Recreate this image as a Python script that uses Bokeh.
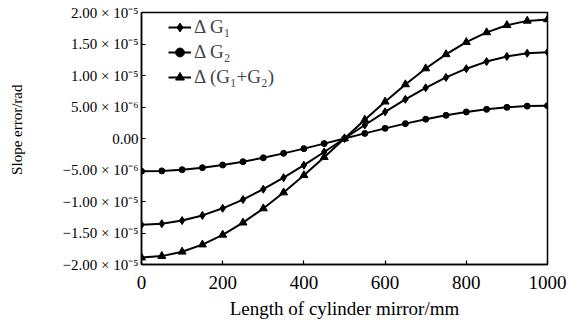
from bokeh.plotting import figure
from bokeh.models import Range1d, FixedTicker, CustomJSTickFormatter, Legend, LegendItem, Title
from bokeh.embed import file_html
from bokeh.resources import INLINE

# Length along cylinder mirror (mm)
x_mm = [0, 50, 100, 150, 200, 250, 300, 350, 400, 450, 500,
        550, 600, 650, 700, 750, 800, 850, 900, 950, 1000]

# Slope errors, in units of 1e-6 rad
dG1 = [-13.70, -13.53, -13.03, -12.21, -11.08, -9.69, -8.05, -6.22, -4.23, -2.14, 0.00,
       2.14, 4.23, 6.22, 8.05, 9.69, 11.08, 12.21, 13.03, 13.53, 13.70]
dG2 = [-5.20, -5.14, -4.95, -4.63, -4.21, -3.68, -3.06, -2.36, -1.61, -0.81, 0.00,
       0.81, 1.61, 2.36, 3.06, 3.68, 4.21, 4.63, 4.95, 5.14, 5.20]
dG12 = [-18.90, -18.67, -17.98, -16.84, -15.29, -13.36, -11.11, -8.58, -5.84, -2.96, 0.00,
        2.96, 5.84, 8.58, 11.11, 13.36, 15.29, 16.84, 17.98, 18.67, 18.90]

series_labels = ["Δ G₁", "Δ G₂", "Δ (G₁+G₂)"]

x_ticks = [0, 200, 400, 600, 800, 1000]
y_ticks = [-2e-5, -1.5e-5, -1e-5, -5e-6, 0.0, 5e-6, 1e-5, 1.5e-5, 2e-5]
y_tick_labels = ["−2.00 × 10⁻⁵", "−1.50 × 10⁻⁵", "−1.00 × 10⁻⁵", "−5.00 × 10⁻⁶", "0.00",
                 "5.00 × 10⁻⁶", "1.00 × 10⁻⁵", "1.50 × 10⁻⁵", "2.00 × 10⁻⁵"]

x_title = "Length of cylinder mirror/mm"
y_title = "Slope error/rad"

UNIT = 1e-6
FONT = "Liberation Serif"

p = figure(width=569, height=322, output_backend="svg", toolbar_location=None,
           x_range=Range1d(0, 1000), y_range=Range1d(-2e-5, 2e-5),
           min_border_left=140, min_border_right=22, min_border_top=12, min_border_bottom=58)

p.xgrid.visible = False
p.ygrid.visible = False
p.outline_line_color = "black"
p.outline_line_width = 1.5
p.background_fill_color = "white"
p.border_fill_color = "white"

for ax in (p.xaxis[0], p.yaxis[0]):
    ax.axis_line_color = "black"
    ax.axis_line_width = 1.5
    ax.major_tick_in = 4
    ax.major_tick_out = 0
    ax.major_tick_line_width = 1.2
    ax.minor_tick_line_color = None
    ax.major_label_text_font = FONT
    ax.axis_label_text_font = FONT
    ax.axis_label_text_font_style = "normal"
    ax.major_label_text_color = "black"
    ax.axis_label_text_color = "black"

p.xaxis.ticker = FixedTicker(ticks=x_ticks)
p.xaxis.major_label_text_font_size = "19px"
p.xaxis.major_label_standoff = 11
p.xaxis.axis_label = x_title
p.xaxis.axis_label_text_font_size = "19px"
p.xaxis.axis_label_standoff = 6

p.yaxis.ticker = FixedTicker(ticks=y_ticks)
p.yaxis.formatter = CustomJSTickFormatter(args=dict(tvals=y_ticks, tlabels=y_tick_labels), code="""
let best = 0, bd = Infinity;
for (let i = 0; i < tvals.length; i++) {
  const d = Math.abs(tvals[i] - tick);
  if (d < bd) { bd = d; best = i; }
}
return tlabels[best];
""")
p.yaxis.major_label_text_font_size = "15px"
p.yaxis.major_label_standoff = 3
# tiny blank spacer label: pushes the outer title further left
p.yaxis.axis_label = "\u00a0"
p.yaxis.axis_label_text_font_size = "1px"
p.yaxis.axis_label_standoff = 21

# y-axis title, sitting a little above the frame centre as in the reference
ytitle = Title(text=y_title, align="right", offset=72, vertical_align="top", standoff=16,
               text_font=FONT, text_font_size="15px", text_font_style="normal",
               text_color="black")
p.add_layout(ytitle, "left")

markers = ["diamond", "circle", "triangle"]
sizes = [8, 6, 8]
items = []
for vals, lab, mk, sz in zip([dG1, dG2, dG12], series_labels, markers, sizes):
    ys = [v * UNIT for v in vals]
    ln = p.line(x_mm, ys, line_color="black", line_width=2)
    sc = p.scatter(x_mm, ys, marker=mk, size=sz, fill_color="black", line_color="black")
    items.append(LegendItem(label=lab, renderers=[ln, sc]))

legend = Legend(items=items, location=(27, 176))
legend.border_line_color = None
legend.background_fill_alpha = 0
legend.label_text_font = FONT
legend.label_text_font_size = "19px"
legend.glyph_width = 23
legend.glyph_height = 22
legend.label_height = 22
legend.spacing = 3
legend.padding = 0
legend.margin = 0
legend.label_standoff = 3
p.add_layout(legend, "center")

open("out.html", "w").write(file_html(p, INLINE))
